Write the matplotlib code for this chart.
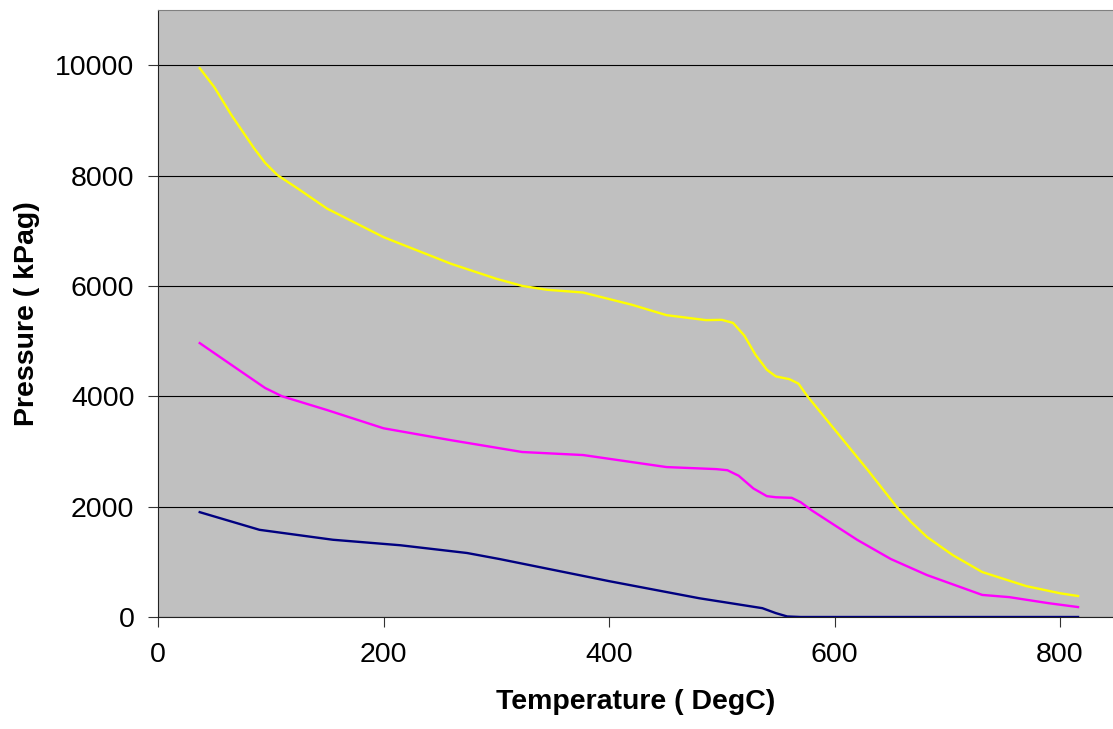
import numpy as np
import matplotlib
matplotlib.use('Agg')
import matplotlib.pyplot as plt

plt.rcParams['font.family'] = ['Liberation Sans', 'DejaVu Sans']

# temperature (DegC) and pressure (kPag)
temp_hi = [37, 50, 65, 85, 95, 106, 125, 150, 200, 260, 300, 323, 345, 377, 420, 451, 486, 500, 510, 520, 530, 540, 548, 560, 568, 576, 600, 630, 655, 668, 682, 705, 731, 770, 800, 816]
pres_hi = [9946, 9600, 9100, 8500, 8230, 8007, 7750, 7400, 6884, 6400, 6130, 6000, 5930, 5880, 5660, 5470, 5380, 5385, 5330, 5100, 4750, 4480, 4360, 4310, 4230, 4000, 3400, 2650, 2000, 1720, 1450, 1120, 815, 560, 430, 380]

temp_mid = [37, 70, 95, 110, 150, 200, 259, 323, 377, 451, 495, 505, 515, 528, 540, 548, 562, 570, 580, 620, 650, 682, 731, 755, 790, 816]
pres_mid = [4964, 4500, 4150, 4000, 3750, 3420, 3207, 2990, 2935, 2717, 2680, 2660, 2560, 2330, 2190, 2170, 2160, 2080, 1930, 1400, 1050, 760, 400, 360, 250, 180]

temp_lo = [37, 90, 155, 215, 274, 303, 400, 480, 536, 548, 558, 570, 816]
pres_lo = [1900, 1580, 1400, 1300, 1160, 1050, 650, 340, 160, 70, 10, 0, 0]

fig = plt.figure(figsize=(11.13, 7.29), dpi=100)
ax = fig.add_axes([158/1113, 1 - 617/729, 1 - 158/1113, (617 - 10)/729])
ax.set_facecolor('#C0C0C0')

ax.plot(temp_hi, pres_hi, color='#FFFF00', lw=1.7, solid_joinstyle='round')
ax.plot(temp_mid, pres_mid, color='#FF00FF', lw=1.7, solid_joinstyle='round')
ax.plot(temp_lo, pres_lo, color='#000080', lw=1.7, solid_joinstyle='round')

ax.set_xlim(0, 847)
ax.set_ylim(0, 11000)
ax.set_xticks([0, 200, 400, 600, 800])
ax.set_yticks([0, 2000, 4000, 6000, 8000, 10000])
ax.yaxis.grid(True, color='black', lw=0.8)
ax.set_axisbelow(True)
ax.tick_params(direction='out', length=7, width=0.8, labelsize=20.5, color='#333333')
ax.tick_params(axis='y', pad=10)
ax.tick_params(axis='x', pad=11)
for s in ['left', 'bottom']:
    ax.spines[s].set_color('#222222')
ax.spines['top'].set_color('#808080')
ax.spines['right'].set_visible(False)

ax.set_xlabel('Temperature ( DegC)', fontsize=20.5, fontweight='bold', labelpad=15)
ax.set_ylabel('Pressure ( kPag)', fontsize=20.5, fontweight='bold', labelpad=11)

fig.savefig('out.png', dpi=100)
